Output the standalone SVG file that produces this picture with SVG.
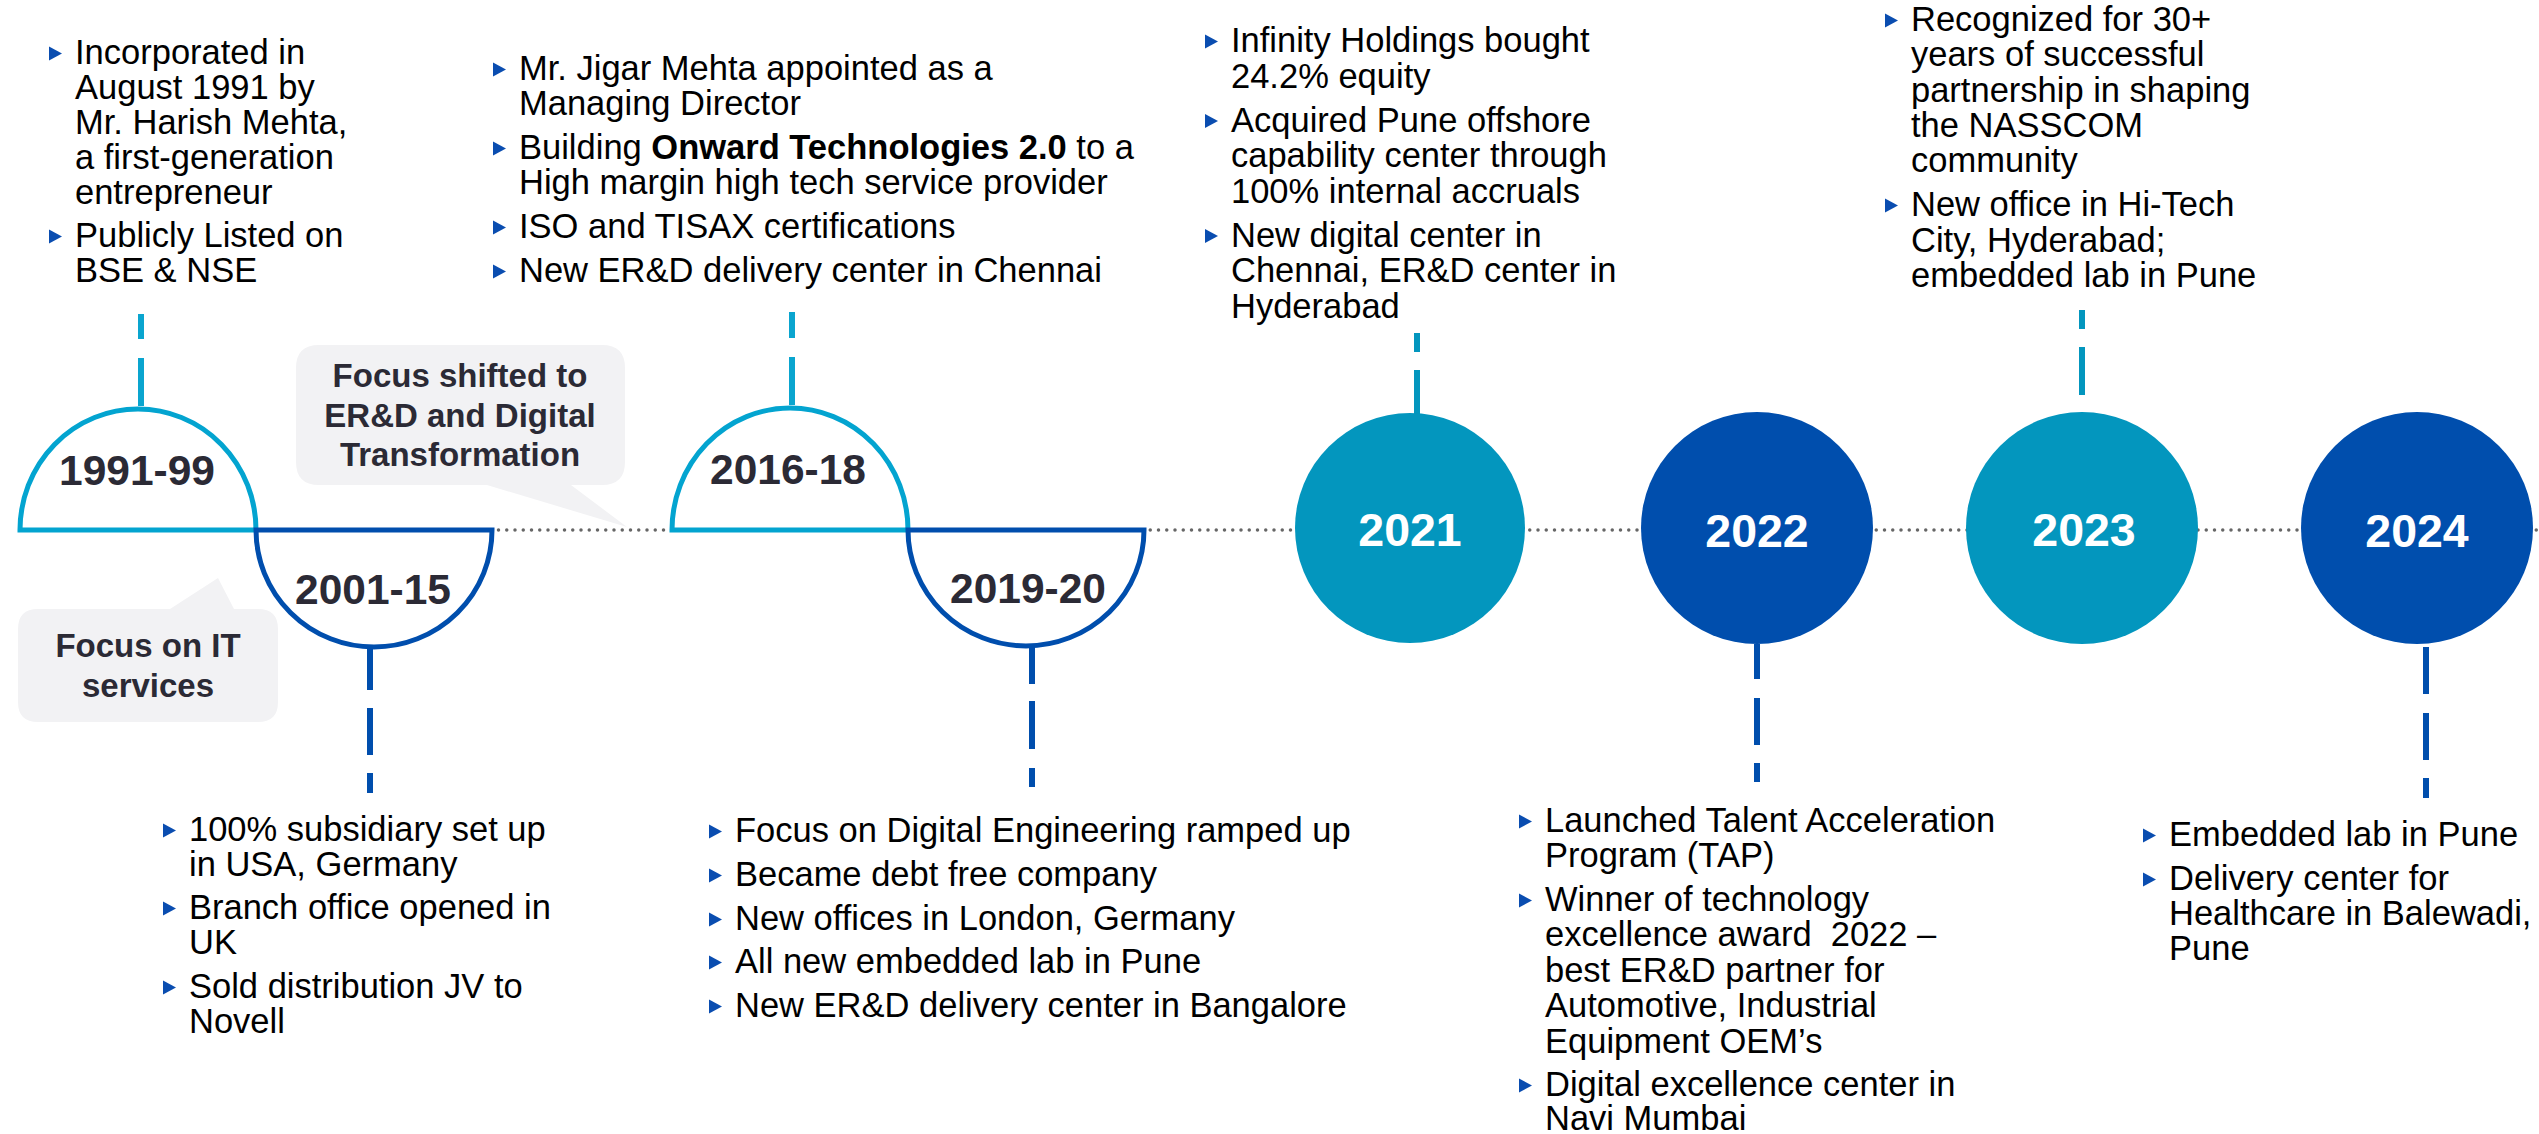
<svg xmlns="http://www.w3.org/2000/svg" xmlns:xlink="http://www.w3.org/1999/xlink" width="2539" height="1134" viewBox="0 0 2539 1134">
  <style>
    text { font-family: "Liberation Sans", Arial, sans-serif; }
    .body { font-size: 34.5px; fill: #000; }
    .b { font-weight: 700; }
    .yr { font-weight: 700; font-size: 42.5px; fill: #2B2A35; text-anchor: middle; }
    .yrc { font-weight: 700; font-size: 46.5px; fill: #FFFFFF; text-anchor: middle; }
    .call { font-weight: 700; font-size: 33px; fill: #2B2A35; text-anchor: middle; }
    .bubble { fill: #F2F2F4; }
    .dome-light { fill: #FFFFFF; stroke: #03A4D0; stroke-width: 5; stroke-linejoin: miter; }
    .dome-dark { fill: #FFFFFF; stroke: #004EAD; stroke-width: 5; stroke-linejoin: miter; }
    .teal { fill: #0396BE; }
    .navy { fill: #004EAD; }
    .stem { stroke-width: 6; fill: none; }
    .stem-light { stroke: #0AA5CF; }
    .stem-teal { stroke: #0396BE; }
    .stem-dark { stroke: #004EAD; }
    .dots { stroke: #666666; stroke-width: 3.5; stroke-dasharray: 0 8.25; stroke-linecap: round; fill: none; }
  </style>
  <defs>
    <path id="bul" d="M0,-7 L13,0 L0,7 Z" fill="#0A4DB0"/>
  </defs>

  <rect width="2539" height="1134" fill="#FFFFFF"/>

  <!-- speech bubbles -->
  <g id="callout-erd">
    <path class="bubble" d="M319 345 H602 Q625 345 625 368 V462 Q625 485 602 485 H571 L627 527 L487 485 H319 Q296 485 296 462 V368 Q296 345 319 345 Z"/>
    <text class="call" x="460" y="387">Focus shifted to</text>
    <text class="call" x="460" y="427">ER&amp;D and Digital</text>
    <text class="call" x="460" y="466">Transformation</text>
  </g>
  <g id="callout-it">
    <path class="bubble" d="M38 609 H170 L218 578 L234 609 H258 Q278 609 278 629 V702 Q278 722 258 722 H38 Q18 722 18 702 V629 Q18 609 38 609 Z"/>
    <text class="call" x="148" y="657">Focus on IT</text>
    <text class="call" x="148" y="697">services</text>
  </g>

  <!-- timeline axis and stems -->
  <g id="connectors">
    <line class="dots" x1="20" y1="530" x2="2539" y2="530"/>
    <line class="stem stem-light" x1="141" y1="406" x2="141" y2="314" stroke-dasharray="48 19"/>
    <line class="stem stem-light" x1="792" y1="405" x2="792" y2="312" stroke-dasharray="48 19"/>
    <line class="stem stem-teal" x1="1417" y1="416" x2="1417" y2="333" stroke-dasharray="46 18"/>
    <line class="stem stem-teal" x1="2082" y1="310" x2="2082" y2="414" stroke-dasharray="19 18 48 19 10"/>
    <line class="stem stem-dark" x1="370" y1="645" x2="370" y2="793" stroke-dasharray="45 18 47 18 20"/>
    <line class="stem stem-dark" x1="1032" y1="644" x2="1032" y2="787" stroke-dasharray="40 17 48 19 19"/>
    <line class="stem stem-dark" x1="1757" y1="644" x2="1757" y2="782" stroke-dasharray="35 19 47 18 19"/>
    <line class="stem stem-dark" x1="2426" y1="647" x2="2426" y2="798" stroke-dasharray="47 19 47 18 20"/>
  </g>

  <!-- 1991-99 -->
  <g id="n1991">
    <path class="dome-light" d="M20 530 A118 121 0 0 1 256 530 Z"/>
    <text class="yr" x="137" y="485">1991-99</text>
    <g class="body">
      <use xlink:href="#bul" x="49" y="53.5"/>
      <text x="75" y="64">Incorporated in</text>
      <text x="75" y="99">August 1991 by</text>
      <text x="75" y="134">Mr. Harish Mehta,</text>
      <text x="75" y="169">a first-generation</text>
      <text x="75" y="204">entrepreneur</text>
      <use xlink:href="#bul" x="49" y="236.5"/>
      <text x="75" y="247">Publicly Listed on</text>
      <text x="75" y="282">BSE &amp; NSE</text>
    </g>
  </g>

  <!-- 2001-15 -->
  <g id="n2001">
    <path class="dome-dark" d="M256 530 A118 117 0 0 0 492 530 Z"/>
    <text class="yr" x="373" y="604">2001-15</text>
    <g class="body">
      <use xlink:href="#bul" x="163" y="830.5"/>
      <text x="189" y="841">100% subsidiary set up</text>
      <text x="189" y="876">in USA, Germany</text>
      <use xlink:href="#bul" x="163" y="908.5"/>
      <text x="189" y="919">Branch office opened in</text>
      <text x="189" y="954">UK</text>
      <use xlink:href="#bul" x="163" y="987.5"/>
      <text x="189" y="998">Sold distribution JV to</text>
      <text x="189" y="1033">Novell</text>
    </g>
  </g>

  <!-- 2016-18 -->
  <g id="n2016">
    <path class="dome-light" d="M672 530 A118 122 0 0 1 908 530 Z"/>
    <text class="yr" x="788" y="484">2016-18</text>
    <g class="body">
      <use xlink:href="#bul" x="493" y="69.5"/>
      <text x="519" y="80">Mr. Jigar Mehta appointed as a</text>
      <text x="519" y="115">Managing Director</text>
      <use xlink:href="#bul" x="493" y="148.5"/>
      <text x="519" y="159">Building <tspan class="b">Onward Technologies 2.0</tspan> to a</text>
      <text x="519" y="194">High margin high tech service provider</text>
      <use xlink:href="#bul" x="493" y="227.5"/>
      <text x="519" y="238">ISO and TISAX certifications</text>
      <use xlink:href="#bul" x="493" y="271.5"/>
      <text x="519" y="282">New ER&amp;D delivery center in Chennai</text>
    </g>
  </g>

  <!-- 2019-20 -->
  <g id="n2019">
    <path class="dome-dark" d="M908 530 A118 116 0 0 0 1144 530 Z"/>
    <text class="yr" x="1028" y="603">2019-20</text>
    <g class="body">
      <use xlink:href="#bul" x="709" y="831.5"/>
      <text x="735" y="842">Focus on Digital Engineering ramped up</text>
      <use xlink:href="#bul" x="709" y="875.5"/>
      <text x="735" y="886">Became debt free company</text>
      <use xlink:href="#bul" x="709" y="919.5"/>
      <text x="735" y="930">New offices in London, Germany</text>
      <use xlink:href="#bul" x="709" y="962.5"/>
      <text x="735" y="973">All new embedded lab in Pune</text>
      <use xlink:href="#bul" x="709" y="1006.5"/>
      <text x="735" y="1017">New ER&amp;D delivery center in Bangalore</text>
    </g>
  </g>

  <!-- 2021 -->
  <g id="n2021">
    <circle class="teal" cx="1410" cy="528" r="115"/>
    <text class="yrc" x="1410" y="546">2021</text>
    <g class="body">
      <use xlink:href="#bul" x="1205" y="41.5"/>
      <text x="1231" y="52">Infinity Holdings bought</text>
      <text x="1231" y="87.5">24.2% equity</text>
      <use xlink:href="#bul" x="1205" y="121"/>
      <text x="1231" y="131.5">Acquired Pune offshore</text>
      <text x="1231" y="167">capability center through</text>
      <text x="1231" y="202.5">100% internal accruals</text>
      <use xlink:href="#bul" x="1205" y="236"/>
      <text x="1231" y="246.5">New digital center in</text>
      <text x="1231" y="282">Chennai, ER&amp;D center in</text>
      <text x="1231" y="317.5">Hyderabad</text>
    </g>
  </g>

  <!-- 2022 -->
  <g id="n2022">
    <circle class="navy" cx="1757" cy="528" r="116"/>
    <text class="yrc" x="1757" y="547">2022</text>
    <g class="body">
      <use xlink:href="#bul" x="1519" y="821.5"/>
      <text x="1545" y="832">Launched Talent Acceleration</text>
      <text x="1545" y="867">Program (TAP)</text>
      <use xlink:href="#bul" x="1519" y="900.5"/>
      <text x="1545" y="911">Winner of technology</text>
      <text x="1545" y="946" xml:space="preserve">excellence award  2022 –</text>
      <text x="1545" y="982">best ER&amp;D partner for</text>
      <text x="1545" y="1017">Automotive, Industrial</text>
      <text x="1545" y="1053">Equipment OEM’s</text>
      <use xlink:href="#bul" x="1519" y="1085.5"/>
      <text x="1545" y="1096">Digital excellence center in</text>
      <text x="1545" y="1130">Navi Mumbai</text>
    </g>
  </g>

  <!-- 2023 -->
  <g id="n2023">
    <circle class="teal" cx="2082" cy="528" r="116"/>
    <text class="yrc" x="2084" y="546">2023</text>
    <g class="body">
      <use xlink:href="#bul" x="1885" y="20.5"/>
      <text x="1911" y="31">Recognized for 30+</text>
      <text x="1911" y="66">years of successful</text>
      <text x="1911" y="102">partnership in shaping</text>
      <text x="1911" y="137">the NASSCOM</text>
      <text x="1911" y="172">community</text>
      <use xlink:href="#bul" x="1885" y="205.5"/>
      <text x="1911" y="216">New office in Hi-Tech</text>
      <text x="1911" y="252">City, Hyderabad;</text>
      <text x="1911" y="287">embedded lab in Pune</text>
    </g>
  </g>

  <!-- 2024 -->
  <g id="n2024">
    <circle class="navy" cx="2417" cy="528" r="116"/>
    <text class="yrc" x="2417" y="547">2024</text>
    <g class="body">
      <use xlink:href="#bul" x="2143" y="835.5"/>
      <text x="2169" y="846">Embedded lab in Pune</text>
      <use xlink:href="#bul" x="2143" y="879.5"/>
      <text x="2169" y="890">Delivery center for</text>
      <text x="2169" y="925">Healthcare in Balewadi,</text>
      <text x="2169" y="960">Pune</text>
    </g>
  </g>
</svg>
